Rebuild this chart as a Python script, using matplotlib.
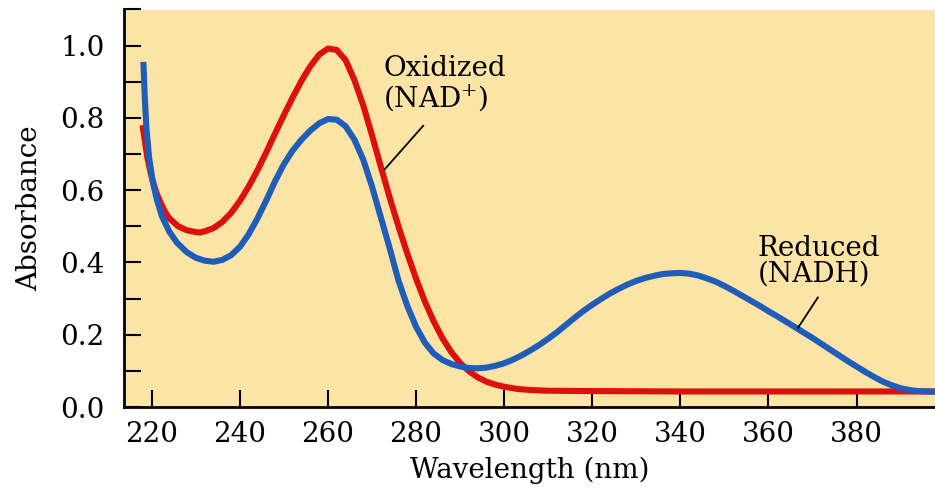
import matplotlib
matplotlib.use('Agg')
import matplotlib.pyplot as plt
from matplotlib.ticker import MultipleLocator

plt.rcParams['font.family'] = 'DejaVu Serif'
plt.rcParams['mathtext.fontset'] = 'dejavuserif'

# oxidized form (NAD+)
nad_nm = [217.9, 219, 220, 221, 222, 223, 224, 226, 228, 230, 231, 232, 234,
          236, 238, 240, 242, 244, 246, 248, 250, 252, 254, 256, 258, 260,
          262, 264, 266, 268, 270, 272, 274, 276, 278, 280, 282, 284, 286,
          288, 290, 292, 294, 296, 298, 300, 303, 306, 310, 320, 340, 360,
          380, 397.8]
nad_abs = [0.78, 0.69, 0.635, 0.595, 0.565, 0.54, 0.522, 0.50, 0.489, 0.484,
           0.483, 0.486, 0.495, 0.512, 0.537, 0.57, 0.61, 0.655, 0.705,
           0.757, 0.808, 0.857, 0.903, 0.943, 0.975, 0.992, 0.988, 0.96,
           0.905, 0.835, 0.752, 0.665, 0.58, 0.50, 0.425, 0.355, 0.292,
           0.237, 0.19, 0.152, 0.122, 0.099, 0.082, 0.07, 0.062, 0.056, 0.05,
           0.047, 0.045, 0.044, 0.043, 0.043, 0.043, 0.043]

# reduced form (NADH)
nadh_nm = [218.1, 218.4, 218.8, 219.4, 220.2, 221.2, 222.3, 224, 225.7, 228,
           230, 232, 234, 236, 238, 240, 242, 244, 246, 248, 250, 252, 254,
           256, 258, 260, 262, 264, 266, 268, 270, 272, 274, 276, 278, 280,
           282, 284, 286, 288, 290, 292, 294, 296, 298, 300, 302, 304, 306,
           308, 310, 312, 314, 316, 318, 320, 322, 324, 326, 328, 330, 332,
           334, 336, 338, 340, 342, 344, 346, 348, 350, 352, 354, 356, 358,
           360, 362, 364, 366, 368, 370, 372, 374, 376, 378, 380, 382, 384,
           386, 388, 390, 392, 394, 396, 397.8]
nadh_abs = [0.955, 0.86, 0.77, 0.69, 0.625, 0.572, 0.528, 0.485, 0.455, 0.428,
            0.413, 0.405, 0.402, 0.407, 0.42, 0.443, 0.478, 0.522, 0.572,
            0.625, 0.672, 0.71, 0.74, 0.765, 0.785, 0.797, 0.795, 0.777, 0.74,
            0.685, 0.61, 0.525, 0.44, 0.35, 0.28, 0.222, 0.178, 0.148, 0.13,
            0.119, 0.112, 0.108, 0.107, 0.109, 0.114, 0.121, 0.131, 0.143,
            0.157, 0.172, 0.189, 0.207, 0.227, 0.247, 0.266, 0.283, 0.299,
            0.314, 0.327, 0.339, 0.349, 0.357, 0.363, 0.368, 0.37, 0.371,
            0.369, 0.364, 0.356, 0.347, 0.335, 0.322, 0.308, 0.294, 0.28,
            0.265, 0.251, 0.236, 0.221, 0.206, 0.191, 0.175, 0.159, 0.143,
            0.127, 0.112, 0.097, 0.083, 0.07, 0.06, 0.052, 0.047, 0.044,
            0.043, 0.042]

x_ticks = [220, 240, 260, 280, 300, 320, 340, 360, 380]
y_ticks = [0.0, 0.2, 0.4, 0.6, 0.8, 1.0]

fig = plt.figure(figsize=(9.35, 4.95), dpi=100)
ax = fig.add_axes([124/935, 88/495, 811/935, 397.5/495])
ax.set_facecolor('#FCE4A6')

ax.plot(nad_nm, nad_abs, color='#DD1010', lw=4.4, solid_capstyle='butt',
        solid_joinstyle='round')
ax.plot(nadh_nm, nadh_abs, color='#1F5DBA', lw=4.4, solid_capstyle='butt',
        solid_joinstyle='round')

ax.set_xlim(213.7, 397.8)
ax.set_ylim(0, 1.1)
ax.set_xticks(x_ticks)
ax.set_yticks(y_ticks)
ax.set_yticklabels([f'{v:.1f}' for v in y_ticks])
ax.yaxis.set_minor_locator(MultipleLocator(0.1))

for s in ['top', 'right']:
    ax.spines[s].set_visible(False)
for s in ['left', 'bottom']:
    ax.spines[s].set_linewidth(2)

ax.tick_params(axis='both', which='both', direction='in', length=12,
               width=1.5, labelsize=20)
ax.tick_params(axis='y', pad=14)
ax.tick_params(axis='x', pad=10)

ax.set_xlabel('Wavelength (nm)', fontsize=20, labelpad=6)
ax.set_ylabel('Absorbance', fontsize=20, labelpad=12)

ax.text(272.5, 0.975, 'Oxidized\n(NAD$^{+}$)', fontsize=20, ha='left',
        va='top', linespacing=1.0)
ax.plot([281.6, 272.9], [0.778, 0.658], color='black', lw=1.3)

ax.text(357.6, 0.475, 'Reduced\n(NADH)', fontsize=20, ha='left', va='top',
        linespacing=0.9)
ax.plot([371.2, 366.7], [0.303, 0.219], color='black', lw=1.3)

fig.savefig('out.png', dpi=100)
